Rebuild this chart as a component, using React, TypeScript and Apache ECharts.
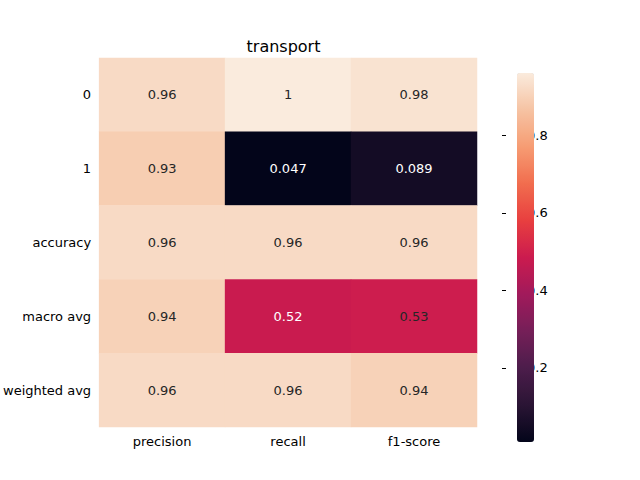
import React, { useEffect, useRef } from "react";
import * as echarts from "echarts";

const cols = ["precision", "recall", "f1-score"];
const rows = ["0", "1", "accuracy", "macro avg", "weighted avg"];
const values = [
  [0.96, 1, 0.98],
  [0.93, 0.047, 0.089],
  [0.96, 0.96, 0.96],
  [0.94, 0.52, 0.53],
  [0.96, 0.96, 0.94],
];
const vmin = 0.047;
const vmax = 1;
const cbTicks = [0.2, 0.4, 0.6, 0.8];
const rocket = ["#03051a", "#2a1434", "#4c1d4b", "#751f58", "#a11a5b", "#cb1b4f", "#e83f3f", "#f16d4e", "#f69c73", "#f6c3a3", "#faebdd"];

export default function App() {
  const ref = useRef<HTMLDivElement>(null);
  useEffect(() => {
    const chart = echarts.init(ref.current!, null, { renderer: "svg" });
    const data: any[] = [];
    values.forEach((r, i) =>
      r.forEach((v, j) => {
        const t = (v - vmin) / (vmax - vmin);
        data.push({ value: [j, i, v], label: { color: t < 0.5 ? "#ffffff" : "#262626" } });
      })
    );
    const font = "DejaVu Sans";
    chart.setOption({
      animation: false,
      textStyle: { fontFamily: font },
      title: { text: "transport", left: 278.5, top: 33, textAlign: "center", textStyle: { fontFamily: font, fontSize: 16, fontWeight: "normal", color: "#000" } },
      grid: [
        { left: 80, top: 58, width: 397, height: 369 },
        { left: 502, top: 58, width: 17, height: 369 },
      ],
      xAxis: [
        { type: "category", data: cols, gridIndex: 0, axisLine: { show: false }, axisTick: { alignWithLabel: true, length: 4, lineStyle: { color: "#000" } }, axisLabel: { color: "#000", fontSize: 13, margin: 8 }, splitLine: { show: false } },
        { type: "value", gridIndex: 1, show: false, min: 0, max: 1 },
      ],
      yAxis: [
        { type: "category", data: rows, inverse: true, gridIndex: 0, axisLine: { show: false }, axisTick: { alignWithLabel: true, length: 4, lineStyle: { color: "#000" } }, axisLabel: { color: "#000", fontSize: 13, margin: 8 } },
        { type: "value", gridIndex: 1, position: "right", min: vmin, max: vmax, axisLine: { show: false }, splitLine: { show: false },
          axisTick: { show: true, length: 4, lineStyle: { color: "#000" }, customValues: cbTicks },
          axisLabel: { color: "#000", fontSize: 13, margin: 8, customValues: cbTicks, formatter: (v: number) => String(Math.round(v * 10) / 10) } },
      ],
      visualMap: {
        type: "continuous", min: vmin, max: vmax, seriesIndex: 0, calculable: false,
        left: 502, top: 58, itemWidth: 17, itemHeight: 369, text: ["", ""], showLabel: false,
        inRange: { color: rocket },
      },
      series: [
        { type: "heatmap", xAxisIndex: 0, yAxisIndex: 0, data,
          label: { show: true, fontSize: 13, fontFamily: font, formatter: (p: any) => String(p.value[2]) },
          itemStyle: { borderWidth: 0 } },
      ],
    });
    return () => chart.dispose();
  }, []);
  return <div ref={ref} style={{ position: "fixed", left: 0, top: 0, width: 640, height: 480, background: "#fff" }} />;
}
